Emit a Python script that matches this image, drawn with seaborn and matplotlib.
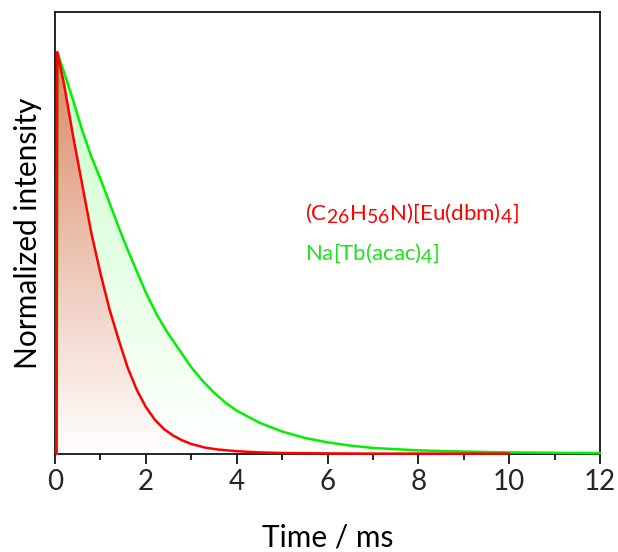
import numpy as np
import pandas as pd
import matplotlib
matplotlib.use("Agg")
import matplotlib.pyplot as plt
import matplotlib._mathtext as _mt
import seaborn as sns

# ---- data ----
eu_t = [0.03, 0.05, 0.20, 0.40, 0.60, 0.80, 1.00, 1.20, 1.40, 1.60, 1.80, 2.00,
        2.20, 2.40, 2.60, 2.80, 3.00, 3.30, 3.60, 4.00, 4.50, 5.00, 6.00, 7.00,
        8.00, 9.00, 10.00]
eu_i = [0.0, 1.0, 0.92, 0.79, 0.67, 0.55, 0.45, 0.36, 0.285, 0.215, 0.16, 0.117,
        0.085, 0.062, 0.046, 0.034, 0.025, 0.016, 0.011, 0.007, 0.004, 0.0025,
        0.0015, 0.001, 0.001, 0.001, 0.001]

tb_t = [0.04, 0.05, 0.20, 0.40, 0.60, 0.80, 1.00, 1.20, 1.40, 1.60, 1.80, 2.00,
        2.25, 2.50, 2.75, 3.00, 3.25, 3.50, 3.75, 4.00, 4.50, 5.00, 5.50, 6.00,
        6.50, 7.00, 7.50, 8.00, 9.00, 10.00, 11.00, 12.00]
tb_i = [0.0, 1.0, 0.95, 0.88, 0.805, 0.74, 0.685, 0.625, 0.565, 0.508, 0.455, 0.402,
        0.345, 0.298, 0.257, 0.216, 0.182, 0.153, 0.128, 0.108, 0.078, 0.056,
        0.040, 0.029, 0.021, 0.015, 0.012, 0.009, 0.006, 0.004, 0.003, 0.002]

eu_label = r"(C$_{26}$H$_{56}$N)[Eu(dbm)$_4$]"
tb_label = r"Na[Tb(acac)$_4$]"
x_ticks = [0, 2, 4, 6, 8, 10, 12]

df_eu = pd.DataFrame({"t": eu_t, "I": eu_i})
df_tb = pd.DataFrame({"t": tb_t, "I": tb_i})

sns.set_theme(style="white")
plt.rcParams["font.family"] = ["Lato", "DejaVu Sans"]
plt.rcParams["mathtext.fontset"] = "custom"
plt.rcParams["mathtext.rm"] = "Lato"
plt.rcParams["mathtext.it"] = "Lato"
plt.rcParams["mathtext.bf"] = "Lato"
# subscripts in the reference are nearly full size
_mt.SHRINK_FACTOR = 0.88

fig = plt.figure(figsize=(6.18, 5.52), dpi=100)
ax = fig.add_axes([55 / 618, 1 - 454 / 552, 545 / 618, 442 / 552])

RED = "#ff0000"
GREEN = "#00f000"


def gradient_fill(ax, x, y, top_rgb, zorder):
    coll = ax.fill_between(x, 0, y, facecolor="none", edgecolor="none")
    n = 256
    frac = np.linspace(0, 1, n)[:, None]
    top = np.array(top_rgb) / 255.0
    white = np.array([1.0, 1.0, 1.0])
    rgb = white + (top - white) * frac
    img = np.concatenate([rgb, np.ones((n, 1))], axis=1)[:, None, :]
    im = ax.imshow(img, extent=[min(x), max(x), 0, 1], origin="lower",
                   aspect="auto", zorder=zorder, interpolation="bilinear")
    im.set_clip_path(coll.get_paths()[0], transform=ax.transData)


gradient_fill(ax, tb_t, tb_i, (200, 255, 200), 1)
gradient_fill(ax, eu_t, eu_i, (218, 135, 102), 1.5)

sns.lineplot(data=df_tb, x="t", y="I", color=GREEN, lw=1.8, ax=ax,
             estimator=None, sort=False, clip_on=False, zorder=3)
sns.lineplot(data=df_eu, x="t", y="I", color=RED, lw=1.8, ax=ax,
             estimator=None, sort=False, clip_on=False, zorder=3.5)

ax.set_xlim(0, 12)
ax.set_ylim(0, 1.1)
ax.set_xticks(x_ticks)
ax.set_xticks([1, 3, 5, 7, 9, 11], minor=True)
ax.set_yticks([])
ax.tick_params(axis="x", which="major", direction="out", length=7, width=1.2,
               color="black", labelsize=20, pad=4, bottom=True)
ax.tick_params(axis="x", which="minor", direction="out", length=4, width=1.2,
               color="black", bottom=True)
for s in ax.spines.values():
    s.set_color("black")
    s.set_linewidth(1.2)
    s.set_zorder(2.5)

ax.set_xlabel("Time / ms", fontsize=21.5, labelpad=20, color="black")
ax.set_ylabel("Normalized intensity", fontsize=21.5, labelpad=9, color="black")

ax.text(5.5, 0.60, eu_label, color=RED, fontsize=16, va="center", ha="left")
ax.text(5.5, 0.50, tb_label, color="#20e020", fontsize=16, va="center", ha="left")

fig.savefig("out.png", dpi=100)
